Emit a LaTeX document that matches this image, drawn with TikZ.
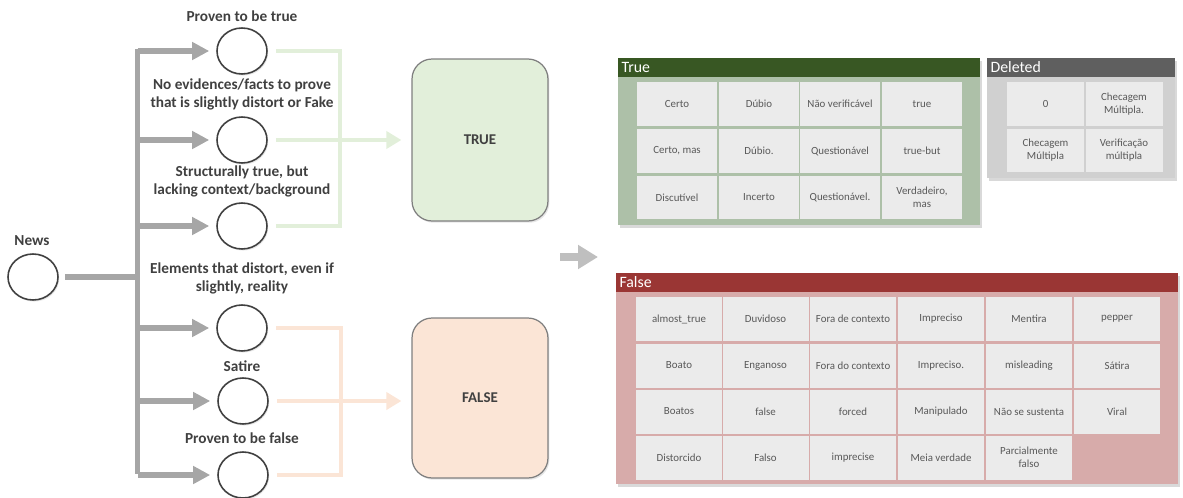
\documentclass[tikz,border=0pt]{standalone}
\usepackage{fontspec}
\setmainfont{Carlito}
\usetikzlibrary{arrows.meta, shapes.geometric, shadows}

\definecolor{ink}{HTML}{404040}
\definecolor{trunkgray}{HTML}{A6A6A6}
\definecolor{midgray}{HTML}{BFBFBF}
\definecolor{tgreen}{HTML}{E2EFDA}
\definecolor{forange}{HTML}{FBE5D6}
\definecolor{boxline}{HTML}{7F7F7F}
\definecolor{thead}{HTML}{385723}
\definecolor{tbody}{HTML}{ADC0A8}
\definecolor{dhead}{HTML}{5F5F5F}
\definecolor{dbody}{HTML}{D0D0D0}
\definecolor{fhead}{HTML}{9A3634}
\definecolor{fbody}{HTML}{D7ABAA}
\definecolor{cellfill}{HTML}{EBEBEB}
\definecolor{celltext}{HTML}{595959}

\tikzset{
  state/.style={ellipse, draw=ink, line width=0.9pt, fill=white, inner sep=0pt,
    minimum width=1cm, minimum height=0.92cm,
    drop shadow={opacity=0.18, shadow xshift=0.7pt, shadow yshift=-0.9pt}},
  lbl/.style={text=ink, align=center, font=\fontsize{8.7}{10.2}\selectfont\bfseries},
  branch/.style={draw=trunkgray, line width=3.4pt},
  branchtip/.style={branch, -{Triangle[length=0.34cm,width=0.34cm]}, shorten >=0.14cm},
  tline/.style={draw=tgreen, line width=2.8pt, shorten <=0.16cm},
  fline/.style={draw=forange, line width=2.8pt, shorten <=0.16cm},
  verdict/.style={draw=boxline, line width=0.7pt, rounded corners=0.4cm,
    minimum width=2.72cm, text=ink, font=\fontsize{8.5}{10}\selectfont\bfseries,
    drop shadow={opacity=0.2, shadow xshift=0.8pt, shadow yshift=-1pt}},
  panel/.style={inner sep=0pt, drop shadow={opacity=0.3, shadow xshift=1.2pt, shadow yshift=-1.6pt}},
  panelhead/.style={inner sep=0pt, minimum height=0.38cm},
  headtext/.style={anchor=west, text=white, inner xsep=2pt, font=\fontsize{9}{10}\selectfont},
  cell/.style={fill=cellfill, text=celltext, inner sep=0pt, align=center,
    minimum height=0.88cm, font=\fontsize{6.2}{7.4}\selectfont},
  tcell/.style={cell, minimum width=1.6cm},
  dcell/.style={cell, minimum width=1.54cm},
  fcell/.style={cell, minimum width=1.72cm},
}

\begin{document}
\begin{tikzpicture}[x=0.02cm, y=-0.02cm]
\useasboundingbox (0,0) rectangle (1183,497);

% incoming item and the six categories
\node[lbl] (newslbl) at (32,241) {News};
\node[state] (news) at (33,277) {};
\node[lbl] (l1) at (242,16) {Proven to be true};
\node[lbl] (l2) at (242,94) {No evidences/facts to prove\\that is slightly distort or Fake};
\node[lbl] (l3) at (242,181) {Structurally true, but\\lacking context/background};
\node[lbl] (l4) at (242,278) {Elements that distort, even if\\slightly, reality};
\node[lbl] (l5) at (242,366) {Satire};
\node[lbl] (l6) at (242,438) {Proven to be false};
\node[state] (c1) at (242,51) {};
\node[state] (c2) at (242,140) {};
\node[state] (c3) at (242,226) {};
\node[state] (c4) at (242,328) {};
\node[state] (c5) at (243,401) {};
\node[state] (c6) at (243,475) {};

% grouped verdicts
\node[verdict, fill=tgreen, minimum height=3.24cm] (truebox) at (480,140) {TRUE};
\node[verdict, fill=forange, minimum height=3.2cm] (falsebox) at (480,398) {FALSE};

% gray tree
\coordinate (trunktop) at (137.5,49);
\coordinate (trunkbot) at (137.5,474);
\draw[branch] (trunktop) -- (trunkbot);
\draw[branch, shorten <=0.12cm] (news.east) -- (news -| trunktop);
\draw[branchtip] (trunktop |- c1) -- (c1);
\draw[branchtip] (trunktop |- c2) -- (c2);
\draw[branchtip] (trunktop |- c3) -- (c3);
\draw[branchtip] (trunktop |- c4) -- (c4);
\draw[branchtip] (trunktop |- c5) -- (c5);
\draw[branchtip] (trunktop |- c6) -- (c6);

% green collector
\coordinate (tbus) at (340,140);
\draw[tline] (c1.east) -| (tbus);
\draw[tline] (c3.east) -| (tbus);
\draw[tline, -{Triangle[length=0.3cm,width=0.34cm]}, shorten >=0.2cm] (c2.east) -- (truebox.west |- c2);

% orange collector
\coordinate (fbus) at (341,400);
\draw[fline] (c4.east) -| (fbus);
\draw[fline] (c6.east) -| (fbus);
\draw[fline, -{Triangle[length=0.3cm,width=0.34cm]}, shorten >=0.2cm] (c5.east) -- (falsebox.west |- c5);

% mapping arrow
\coordinate (mida) at (560,257);
\coordinate (midb) at (598,257);
\draw[draw=midgray, line width=5pt, -{Triangle[length=0.4cm,width=0.46cm]}] (mida) -- (midb);

% True panel
\node[panel, fill=tbody, minimum width=7.24cm, minimum height=3.34cm] (truepanel) at (799,141.5) {};
\node[panelhead, fill=thead, minimum width=7.24cm] (truehead) at (799,67.5) {};
\node[headtext] (truetitle) at (truehead.west) {True};
\node[tcell] (t11) at (677,104) {Certo};
\node[tcell] (t12) at (759,104) {Dúbio};
\node[tcell] (t13) at (840,104) {Não verificável};
\node[tcell] (t14) at (922,104) {true};
\node[tcell] (t21) at (677,151) {Certo, mas};
\node[tcell] (t22) at (759,151) {Dúbio.};
\node[tcell] (t23) at (840,151) {Questionável};
\node[tcell] (t24) at (922,151) {true-but};
\node[tcell] (t31) at (677,197.5) {Discutível};
\node[tcell] (t32) at (759,197.5) {Incerto};
\node[tcell] (t33) at (840,197.5) {Questionável.};
\node[tcell] (t34) at (922,197.5) {Verdadeiro,\\mas};

% Deleted panel
\node[panel, fill=dbody, minimum width=3.76cm, minimum height=2.4cm] (delpanel) at (1081,118) {};
\node[panelhead, fill=dhead, minimum width=3.76cm] (delhead) at (1081,67.5) {};
\node[headtext] (deltitle) at (delhead.west) {Deleted};
\node[dcell] (d11) at (1045.5,104) {0};
\node[dcell] (d12) at (1124,104) {Checagem\\Múltipla.};
\node[dcell] (d21) at (1045.5,150.5) {Checagem\\Múltipla};
\node[dcell] (d22) at (1124,150.5) {Verificação\\múltipla};

% False panel
\node[panel, fill=fbody, minimum width=11.24cm, minimum height=4.22cm] (falsepanel) at (897,378.5) {};
\node[panelhead, fill=fhead, minimum width=11.24cm] (falsehead) at (897,282.5) {};
\node[headtext] (falsetitle) at (falsehead.west) {False};
\node[fcell] (f11) at (679,319) {almost\_true};
\node[fcell] (f12) at (765.5,319) {Duvidoso};
\node[fcell] (f13) at (853,319) {Fora de contexto};
\node[fcell] (f14) at (941,319) {Impreciso};
\node[fcell] (f15) at (1029,319) {Mentira};
\node[fcell] (f16) at (1117,319) {pepper};
\node[fcell] (f21) at (679,365.5) {Boato};
\node[fcell] (f22) at (765.5,365.5) {Enganoso};
\node[fcell] (f23) at (853,365.5) {Fora do contexto};
\node[fcell] (f24) at (941,365.5) {Impreciso.};
\node[fcell] (f25) at (1029,365.5) {misleading};
\node[fcell] (f26) at (1117,365.5) {Sátira};
\node[fcell] (f31) at (679,411.5) {Boatos};
\node[fcell] (f32) at (765.5,411.5) {false};
\node[fcell] (f33) at (853,411.5) {forced};
\node[fcell] (f34) at (941,411.5) {Manipulado};
\node[fcell] (f35) at (1029,411.5) {Não se sustenta};
\node[fcell] (f36) at (1117,411.5) {Viral};
\node[fcell] (f41) at (679,457.5) {Distorcido};
\node[fcell] (f42) at (765.5,457.5) {Falso};
\node[fcell] (f43) at (853,457.5) {imprecise};
\node[fcell] (f44) at (941,457.5) {Meia verdade};
\node[fcell] (f45) at (1029,457.5) {Parcialmente\\falso};
\end{tikzpicture}
\end{document}
